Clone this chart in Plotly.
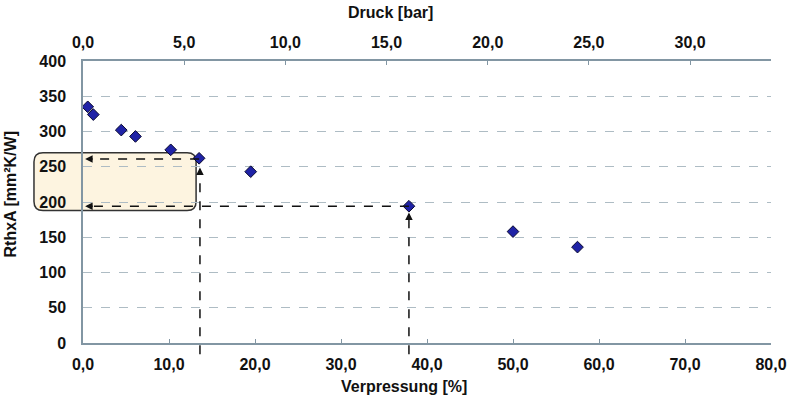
import plotly.graph_objects as go

# ---- data ----
verpressung = [0.55, 1.2, 4.45, 6.1, 10.2, 13.5, 19.5, 37.9, 50.0, 57.5]
rthxa = [335, 324, 302, 293, 274, 262, 243, 194, 158, 136]

x_range = [0, 80]
x2_range = [0, 34]
y_range = [0, 400]
x_ticks = [0, 10, 20, 30, 40, 50, 60, 70, 80]
x2_ticks = [0, 5, 10, 15, 20, 25, 30]
y_ticks = [0, 50, 100, 150, 200, 250, 300, 350, 400]

# highlight box (data units) and guide arrows (data units)
box = dict(x0=-5.7, x1=13.15, y0=188, y1=270)
h_arrows = [(13.5, 0.25, 261), (37.9, 0.25, 194)]      # (x_from, x_to, y)
v_arrows = [(13.6, -16, 249), (37.9, -16, 185)]        # (x, y_from, y_to)

W, H = 788, 400
ML, MR, MT, MB = 83, 17, 61, 57
PW, PH = W - ML - MR, H - MT - MB

def px(x):
    return (x - x_range[0]) / (x_range[1] - x_range[0])

def py(y):
    return (y - y_range[0]) / (y_range[1] - y_range[0])

FONT = "Liberation Sans, Arial, sans-serif"
AXCOL = "#8296a3"
GRIDCOL = "#aebcc4"

fig = go.Figure()
fig.add_trace(go.Scatter(
    x=verpressung, y=rthxa, mode="markers",
    marker=dict(symbol="diamond", size=9, color="#1f22a6",
                line=dict(color="#0a0a30", width=1)),
    hoverinfo="x+y", showlegend=False))
fig.add_trace(go.Scatter(x=[], y=[], xaxis="x2", showlegend=False, hoverinfo="skip"))

shapes = []
# rounded highlight box
x0, x1 = px(box["x0"]), px(box["x1"])
y0, y1 = py(box["y0"]), py(box["y1"])
rx, ry = 9 / PW, 9 / PH
path = (f"M {x0+rx},{y0} L {x1-rx},{y0} Q {x1},{y0} {x1},{y0+ry} "
        f"L {x1},{y1-ry} Q {x1},{y1} {x1-rx},{y1} L {x0+rx},{y1} "
        f"Q {x0},{y1} {x0},{y1-ry} L {x0},{y0+ry} Q {x0},{y0} {x0+rx},{y0} Z")
shapes.append(dict(type="path", xref="paper", yref="paper", path=path,
                   fillcolor="#fdf4e0", line=dict(color="#333333", width=1.5),
                   layer="below"))
annotations = []
for xf, xt, y in h_arrows:
    shapes.append(dict(type="line", xref="paper", yref="paper",
                       x0=px(xf), x1=px(xt) + 4 / PW, y0=py(y), y1=py(y),
                       line=dict(color="#111111", width=1.5, dash="dash")))
    annotations.append(dict(x=xt, y=y, xref="x", yref="y", ax=9, ay=0, text="",
                            showarrow=True, arrowhead=2, arrowsize=1,
                            arrowwidth=1.5, arrowcolor="#111111", standoff=0))
for x, yf, yt in v_arrows:
    shapes.append(dict(type="line", xref="paper", yref="paper",
                       x0=px(x), x1=px(x), y0=py(yf), y1=py(yt) - 4 / PH,
                       line=dict(color="#111111", width=1.5, dash="dash")))
    annotations.append(dict(x=x, y=yt, xref="x", yref="y", ax=0, ay=9, text="",
                            showarrow=True, arrowhead=2, arrowsize=1,
                            arrowwidth=1.5, arrowcolor="#111111", standoff=0))

# axis titles
tfont = dict(family=FONT, size=16, color="#111111", weight="bold")
annotations.append(dict(text="Druck [bar]", xref="paper", yref="paper",
                        x=(390 - ML) / PW, y=1 + (MT - 12) / PH, showarrow=False,
                        xanchor="center", yanchor="middle", font=tfont))
annotations.append(dict(text="Verpressung [%]", xref="paper", yref="paper",
                        x=(404 - ML) / PW, y=-(386 - (H - MB)) / PH, showarrow=False,
                        xanchor="center", yanchor="middle", font=tfont))
annotations.append(dict(text="RthxA [mm²K/W]", xref="paper", yref="paper",
                        x=(10 - ML) / PW, y=((H - MB) - 194.5) / PH, showarrow=False,
                        textangle=-90, xanchor="center", yanchor="middle", font=tfont))

tickfont = dict(family=FONT, size=16, color="#111111", weight="bold")
fig.update_layout(
    width=W, height=H, margin=dict(l=ML, r=MR, t=MT, b=MB, autoexpand=False),
    paper_bgcolor="white", plot_bgcolor="white",
    separators=",.",
    shapes=shapes, annotations=annotations,
    xaxis=dict(range=x_range, tickvals=x_ticks, tickformat=".1f",
               showline=True, linecolor=AXCOL, linewidth=1.5,
               ticks="inside", ticklen=4, tickcolor=AXCOL, tickwidth=1.2,
               showgrid=False, zeroline=False, tickfont=tickfont,
               ticklabelstandoff=6, automargin=False),
    xaxis2=dict(range=x2_range, tickvals=x2_ticks, tickformat=".1f",
                overlaying="x", side="top", anchor="y",
                showline=True, linecolor=AXCOL, linewidth=1.5,
                ticks="inside", ticklen=4, tickcolor=AXCOL, tickwidth=1.2,
                showgrid=False, zeroline=False, tickfont=tickfont,
                ticklabelstandoff=5, automargin=False),
    yaxis=dict(range=y_range, tickvals=y_ticks,
               showline=True, linecolor=AXCOL, linewidth=1.5,
               ticks="", showgrid=True, gridcolor=GRIDCOL, griddash="dash",
               gridwidth=1, zeroline=False, tickfont=tickfont,
               ticklabelstandoff=12, automargin=False),
    font=dict(family=FONT),
)

fig.write_html("out.html", config={"displayModeBar": False},
               post_script="document.body.style.margin='0';document.body.style.overflow='hidden';")
